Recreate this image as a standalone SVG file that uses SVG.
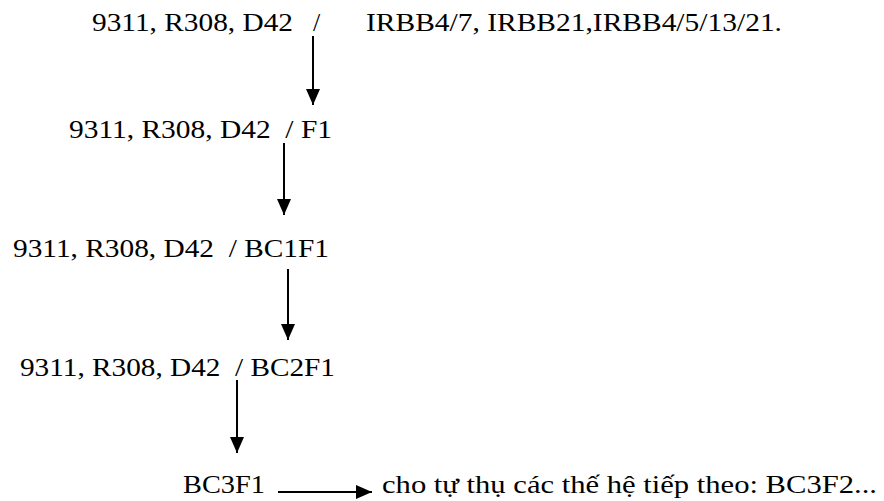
<svg xmlns="http://www.w3.org/2000/svg" width="884" height="501" viewBox="0 0 884 501">
<defs>
<style>
text{font-family:"Liberation Serif","Times New Roman",serif;font-size:26px;fill:#000}
.c{stroke:#000;stroke-width:2;fill:none}
</style>
<marker id="ah" viewBox="0 0 16 14" refX="16" refY="7" markerWidth="16" markerHeight="14" markerUnits="userSpaceOnUse" orient="auto">
<path d="M0,0 L16,7 L0,14 Z" fill="#000"/>
</marker>
</defs>
<rect width="884" height="501" fill="#fff"/>
<g id="n1">
<text x="92" y="31" textLength="201" lengthAdjust="spacingAndGlyphs">9311, R308, D42</text>
<text x="313" y="31">/</text>
<text x="366" y="31" textLength="416" lengthAdjust="spacingAndGlyphs">IRBB4/7, IRBB21,IRBB4/5/13/21.</text>
</g>
<g id="n2">
<text x="69" y="138" textLength="263" lengthAdjust="spacingAndGlyphs" xml:space="preserve">9311, R308, D42  / F1</text>
</g>
<g id="n3">
<text x="13" y="257" textLength="316" lengthAdjust="spacingAndGlyphs" xml:space="preserve">9311, R308, D42  / BC1F1</text>
</g>
<g id="n4">
<text x="20" y="376" textLength="315" lengthAdjust="spacingAndGlyphs" xml:space="preserve">9311, R308, D42  / BC2F1</text>
</g>
<g id="n5">
<text x="183" y="493" textLength="82" lengthAdjust="spacingAndGlyphs">BC3F1</text>
</g>
<g id="n6">
<text x="382" y="493" textLength="495" lengthAdjust="spacingAndGlyphs">cho tự thụ các thế hệ tiếp theo: BC3F2...</text>
</g>
<g id="connectors">
<line class="c" x1="313" y1="36" x2="313" y2="105" marker-end="url(#ah)"/>
<line class="c" x1="284" y1="143" x2="284" y2="215" marker-end="url(#ah)"/>
<line class="c" x1="288" y1="269" x2="288" y2="340" marker-end="url(#ah)"/>
<line class="c" x1="237" y1="380" x2="237" y2="453" marker-end="url(#ah)"/>
<line class="c" x1="278" y1="492" x2="372" y2="492" marker-end="url(#ah)"/>
</g>
</svg>
